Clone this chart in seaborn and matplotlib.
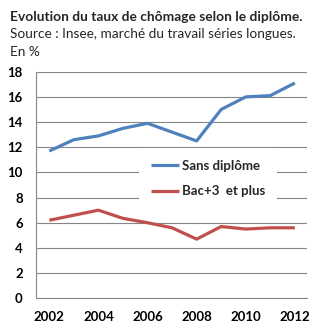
import matplotlib
matplotlib.use("Agg")
import matplotlib.pyplot as plt
import seaborn as sns
import pandas as pd

years = [2002, 2003, 2004, 2005, 2006, 2007, 2008, 2009, 2010, 2011, 2012]
sans_diplome = [11.7, 12.6, 12.9, 13.5, 13.9, 13.2, 12.5, 15.0, 16.0, 16.1, 17.1]
bac3_et_plus = [6.2, 6.6, 7.0, 6.35, 6.0, 5.6, 4.7, 5.7, 5.5, 5.6, 5.6]
series_names = ["Sans diplôme", "Bac+3  et plus"]
yticks = [0, 2, 4, 6, 8, 10, 12, 14, 16, 18]
xticks = [2002, 2004, 2006, 2008, 2010, 2012]

title = "Evolution du taux de chômage selon le diplôme."
source = "Source : Insee, marché du travail séries longues."
unit = "En %"

df = pd.DataFrame({
    "year": years * 2,
    "value": sans_diplome + bac3_et_plus,
    "serie": [series_names[0]] * len(years) + [series_names[1]] * len(years),
})

sns.set_theme(style="white")
plt.rcParams["font.family"] = ["Lato", "DejaVu Sans"]

fig = plt.figure(figsize=(3.22, 3.23), dpi=100)
ax = fig.add_axes([0.112, 0.0765, 0.841, 0.7015])

sns.lineplot(data=df, x="year", y="value", hue="serie",
             palette=["#4F81BD", "#C0504D"], linewidth=2.3, ax=ax,
             solid_capstyle="butt", solid_joinstyle="round")

ax.set_xlim(2001.46, 2012.49)
ax.set_ylim(0, 18)
ax.set_yticks(yticks)
ax.set_xticks(xticks)
ax.set_xticklabels([str(x) for x in xticks], fontweight="bold", fontsize=9.5)
ax.set_yticklabels([str(y) for y in yticks], fontweight="bold", fontsize=9.5)
ax.tick_params(axis="y", length=0, pad=9.5, colors="black")
ax.tick_params(axis="x", length=0, pad=9, colors="black")
ax.yaxis.grid(True, color="#868686", linewidth=0.8)
ax.set_axisbelow(True)
for s in ["top", "right"]:
    ax.spines[s].set_visible(False)
for s in ["left", "bottom"]:
    ax.spines[s].set_color("#868686")
    ax.spines[s].set_linewidth(0.8)
ax.set_xlabel("")
ax.set_ylabel("")

leg = ax.legend(loc="center", bbox_to_anchor=(0.635, 0.528), frameon=True,
                facecolor="white", edgecolor="none", framealpha=1,
                handlelength=2.1, handletextpad=0.2, labelspacing=1.0,
                borderpad=0.9, prop={"weight": "bold", "size": 9.5})
leg.get_frame().set_boxstyle("square", pad=0)

fig.text(0.031, 0.947, title, fontsize=9.95, fontweight="bold", va="center", ha="left")
fig.text(0.031, 0.895, source, fontsize=9.8, va="center", ha="left")
fig.text(0.031, 0.839, unit, fontsize=9.8, va="center", ha="left")

fig.savefig("out.png", dpi=100)
